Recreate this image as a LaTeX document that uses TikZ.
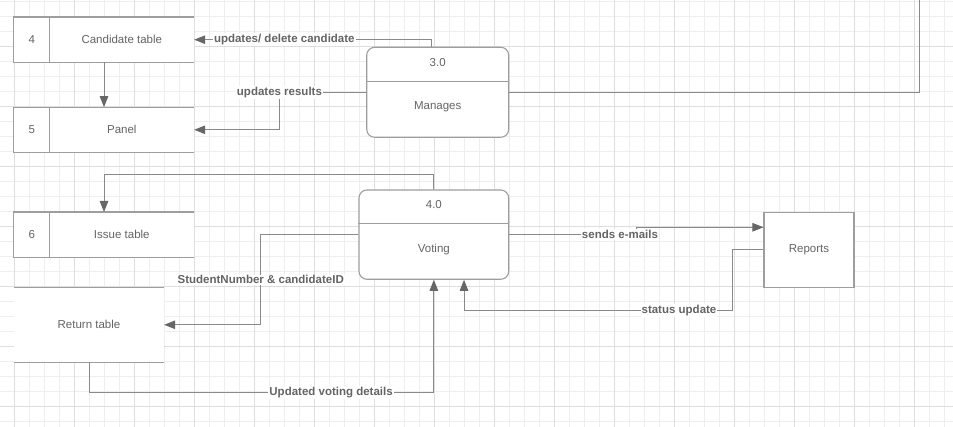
\documentclass[tikz,border=0pt]{standalone}
\usepackage{fontspec}
\setmainfont{Liberation Sans}
\usetikzlibrary{arrows.meta, positioning, calc}
\definecolor{gridmin}{HTML}{EEEEEE}
\definecolor{gridmaj}{HTML}{DEDEDE}
\definecolor{linegray}{HTML}{898989}
\definecolor{boxgray}{HTML}{9E9E9E}
\definecolor{tipgray}{HTML}{676767}
\definecolor{textgray}{HTML}{646464}
\tikzset{
  txt/.style    ={text=textgray, font=\fontsize{11.5}{13}\selectfont, inner sep=0pt},
  store/.style  ={rectangle, fill=white, minimum width=180pt, minimum height=45pt},
  retbox/.style ={rectangle, fill=white, minimum width=150pt, minimum height=75pt, txt},
  proc/.style   ={rectangle, draw=boxgray, line width=1.1pt, fill=white, rounded corners=8pt},
  ext/.style    ={rectangle, draw=boxgray, line width=1.1pt, fill=white,
                  minimum width=90pt, minimum height=74.6pt, txt},
  boxline/.style={draw=boxgray, line width=1.1pt},
  flow/.style   ={draw=linegray, line width=1pt},
  arr/.style    ={flow, -{Triangle[length=11pt, width=8.5pt, color=tipgray]}},
  lbl/.style    ={fill=white, inner sep=1pt, text=textgray,
                  font=\fontsize{11.5}{13}\selectfont\bfseries}
}

\begin{document}
\begin{tikzpicture}[x=1pt, y=-1pt]
  % background grid
  \fill[white] (0,0) rectangle (953,427);
  \useasboundingbox (0,0) rectangle (953,427);
  \foreach \gx in {0,...,62} \draw[gridmin, line width=0.8pt] ({14.7+15*\gx},0) -- ({14.7+15*\gx},427);
  \foreach \gy in {0,...,28} \draw[gridmin, line width=0.8pt] (0,{1.7+15*\gy}) -- (953,{1.7+15*\gy});
  \foreach \gx in {0,...,15} \draw[gridmaj, line width=0.8pt] ({14.7+60*\gx},0) -- ({14.7+60*\gx},427);
  \foreach \gy in {0,...,6} \draw[gridmaj, line width=0.8pt] (0,{46.7+60*\gy}) -- (953,{46.7+60*\gy});

  % data stores
  \node[store] (cand) at (104,39.7) {};
  \node[txt] (candtx) at ($(cand.west)+(108,0)$) {Candidate table};
  \node[txt] (candno) at ($(cand.west)+(18,0)$) {4};
  \node[store] (panel) at (104,129.8) {};
  \node[txt] (paneltx) at ($(panel.west)+(108,0)$) {Panel};
  \node[txt] (panelno) at ($(panel.west)+(18,0)$) {5};
  \node[store] (issue) at (104,234.7) {};
  \node[txt] (issuetx) at ($(issue.west)+(108,0)$) {Issue table};
  \node[txt] (issueno) at ($(issue.west)+(18,0)$) {6};
  \foreach \s in {cand,panel,issue}
    \draw[boxline] (\s.north east) -- (\s.north west) -- (\s.south west) -- (\s.south east)
                   ($(\s.north west)+(36,0)$) -- ($(\s.south west)+(36,0)$);

  \node[retbox] (ret) at (89,324.8) {Return table};
  \draw[boxline] (ret.north west) -- (ret.north east) (ret.south west) -- (ret.south east);

  % processes
  \node[proc, minimum width=142pt, minimum height=90pt] (mng) at (437.7,92.3) {};
  \draw[boxline] ($(mng.north west)+(0,34.4)$) -- ($(mng.north east)+(0,34.4)$);
  \node[txt] (mngno) at ($(mng.north)+(0,16)$) {3.0};
  \node[txt] (mngtx) at ($(mng.north)+(0,60.4)$) {Manages};

  \node[proc, minimum width=149.7pt, minimum height=89.3pt] (vot) at (433.85,234.65) {};
  \draw[boxline] ($(vot.north west)+(0,34)$) -- ($(vot.north east)+(0,34)$);
  \node[txt] (votno) at ($(vot.north)+(0,15.5)$) {4.0};
  \node[txt] (vottx) at ($(vot.north)+(0,60)$) {Voting};

  \node[ext] (rep) at (809,250) {Reports};

  % flows
  \coordinate (offtop) at (919.3,-1);
  \draw[arr] ($(mng.north)+(-6.4,0)$) |- node[lbl, pos=0.81] {updates/ delete candidate} (cand.east);
  \draw[arr] (cand.south) -- (panel.north);
  \draw[arr] (mng.west) -- ++(-86.7,0) node[lbl] {updates results} |- (panel.east);
  \draw[flow] (mng.east) -| (offtop);
  \draw[arr] (vot.north) -- ++(0,-15) -| (issue.north);
  \draw[arr] (vot.west) -- ++(-97.7,0) |- node[lbl, pos=0.25] {StudentNumber \& candidateID} (ret.east);
  \draw[arr] (ret.south) -- ++(0,30) -| node[lbl, pos=0.351] {Updated voting details} (vot.south);
  \draw[arr] (vot.east) -- node[lbl, pos=0.87] {sends e-mails} ++(127.3,0) |- ($(rep.west)+(0,-22.7)$);
  \draw[arr] (rep.west) -- ++(-30.7,0) |- node[lbl, pos=0.6] {status update}
             ($(vot.south)+(30.15,30.7)$) -- ($(vot.south)+(30.15,0)$);
\end{tikzpicture}
\end{document}
